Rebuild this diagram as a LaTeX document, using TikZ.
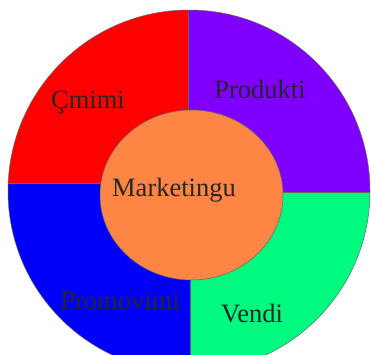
\documentclass[tikz,border=0pt]{standalone}
\usepackage{fontspec}
\setmainfont{Liberation Serif}
\usetikzlibrary{positioning}
\definecolor{cmimiRed}{HTML}{FF0000}
\definecolor{produktiViolet}{HTML}{7F00FF}
\definecolor{vendiGreen}{HTML}{00FA80}
\definecolor{promoBlue}{HTML}{0000FA}
\definecolor{coreOrange}{HTML}{FF8545}

\begin{document}
\begin{tikzpicture}[x=1pt,y=-1pt,
  edge/.style={draw=black!60,line width=0.5pt},
  lbl/.style={font=\fontsize{26.5}{28}\selectfont,text=black!85,inner sep=0pt,anchor=base}]
\useasboundingbox (0,0) rectangle (371,354);
\clip (0,0) rectangle (371,354);

% Quadrants
\begin{scope}
  \clip (0,0) rectangle (188,183);
  \fill[cmimiRed] (189,191) circle[radius=181pt];
\end{scope}
\begin{scope}
  \clip (188,0) rectangle (371,192);
  \fill[produktiViolet] (189,191) circle[radius=181pt];
\end{scope}
\begin{scope}
  \clip (190.5,192) rectangle (371,380);
  \fill[vendiGreen] (189,191) circle[radius=181pt];
\end{scope}
\begin{scope}
  \clip (0,183) rectangle (190.5,380);
  \fill[promoBlue] (189,191) circle[radius=181pt];
\end{scope}

% Borders
\begin{scope}
  \clip (189,191) circle[radius=181pt];
  \draw[edge] (188,0) -- (188,195) (0,183) -- (191,183);
  \draw[edge] (190.5,195) -- (190.5,380) (191,192) -- (371,192);
\end{scope}
\draw[edge] (189,191) circle[radius=181pt];

% Centre
\fill[coreOrange,edge] (191.5,195) ellipse[x radius=91.5pt,y radius=85pt];

% Labels
\node[lbl] (cmimi) at (88,108) {Çmimi};
\node[lbl] (produkti) at (260,98) {Produkti};
\node[lbl] (marketingu) at (174,196) {Marketingu};
\node[lbl] (promovimi) at (120,309) {Promovimi};
\node[lbl] (vendi) at (252,322) {Vendi};
\end{tikzpicture}
\end{document}
